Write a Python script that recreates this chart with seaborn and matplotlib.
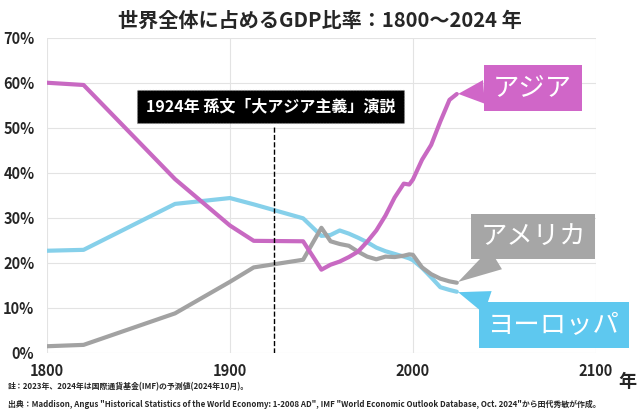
import numpy as np
import pandas as pd
import matplotlib
matplotlib.use("Agg")
import matplotlib.pyplot as plt
import seaborn as sns

# データ
years = [1800, 1820, 1870, 1900, 1913, 1940, 1950, 1955, 1960, 1965, 1970,
         1975, 1980, 1985, 1990, 1995, 1998, 2000, 2005, 2010, 2015, 2020, 2024]
asia = [60.0, 59.5, 38.6, 28.3, 24.9, 24.8, 18.5, 19.6, 20.3, 21.3, 22.5,
        24.7, 27.2, 30.5, 34.5, 37.6, 37.4, 38.5, 42.9, 46.2, 51.4, 56.2, 57.5]
europe = [22.7, 22.9, 33.1, 34.4, 33.0, 29.9, 26.0, 26.2, 27.2, 26.5, 25.6,
          24.6, 23.4, 22.6, 22.0, 21.4, 21.0, 20.6, 18.9, 16.8, 14.6, 14.0, 13.6]
usa = [1.5, 1.8, 8.8, 15.8, 19.0, 20.7, 27.8, 24.8, 24.2, 23.8, 22.5,
       21.4, 20.8, 21.4, 21.3, 21.6, 21.9, 21.8, 19.0, 17.5, 16.5, 15.9, 15.6]

regions = ["アジア", "アメリカ", "ヨーロッパ"]
line_colors = {"アジア": "#c869c2", "アメリカ": "#a2a2a2", "ヨーロッパ": "#86d0ea"}
box_colors = {"アジア": "#d066c8", "アメリカ": "#a6a6a6", "ヨーロッパ": "#5ec8ef"}

df = pd.DataFrame({"年": years, "アジア": asia, "アメリカ": usa, "ヨーロッパ": europe})
df_long = df.melt(id_vars="年", var_name="地域", value_name="比率")

sns.set_style("white")
plt.rcParams['font.family'] = ['Noto Sans CJK JP', 'DejaVu Sans']

fig = plt.figure(figsize=(6.4, 4.17), dpi=100)
ax = fig.add_axes([0.0734, 0.1535, 0.8576, 0.7561])

sns.lineplot(data=df_long, x="年", y="比率", hue="地域", hue_order=["ヨーロッパ", "アメリカ", "アジア"],
             palette=line_colors, linewidth=3, legend=False, ax=ax)

ax.set_xlim(1800, 2100)
ax.set_ylim(0, 70)
ax.set_xticks([1800, 1900, 2000, 2100])
ax.set_yticks(range(0, 71, 10))
ax.set_yticklabels([f"{v}%" for v in range(0, 71, 10)])
ax.grid(True, color="#e3e3e3", linewidth=0.8)
ax.set_axisbelow(True)
for s in ax.spines.values():
    s.set_visible(False)
ax.tick_params(axis="both", length=0, labelsize=10.5)
ax.tick_params(axis="y", pad=9)
ax.tick_params(axis="x", pad=7)
for lab in ax.get_xticklabels() + ax.get_yticklabels():
    lab.set_fontweight("bold")
ax.set_xlabel("")
ax.set_ylabel("")

# 1924年 孫文
ax.vlines(1924, 0, 50.6, colors="black", linestyles="--", linewidth=1)
ax.text(1922.4, 54.7, "1924年 孫文「大アジア主義」演説", color="white", fontsize=11.5,
        fontweight="bold", ha="center", va="center",
        bbox=dict(boxstyle="square,pad=0.55", fc="black", ec="#888888", ls=":", lw=0.8))

# 地域ラベル（吹き出し）
label_pos = {"アジア": (2065.5, 58.8), "アメリカ": (2065.8, 25.9), "ヨーロッパ": (2077.3, 6.2)}
series = {"アジア": asia, "アメリカ": usa, "ヨーロッパ": europe}
for name in regions:
    ax.annotate(name, xy=(years[-1], series[name][-1]), xytext=label_pos[name],
                ha="center", va="center", color="white", fontsize=19,
                bbox=dict(boxstyle="square,pad=0.35", fc=box_colors[name], ec="none"),
                arrowprops=dict(arrowstyle="wedge,tail_width=0.9,shrink_factor=0.5",
                                fc=box_colors[name], ec="none", shrinkA=0, shrinkB=1),
                annotation_clip=False)

fig.text(0.5, 0.952, "世界全体に占めるGDP比率：1800～2024 年", ha="center", va="center",
         fontsize=14.5, fontweight="bold")
fig.text(0.98, 0.085, "年", ha="center", va="center", fontsize=13, fontweight="bold")
fig.text(0.012, 0.072, "註：2023年、2024年は国際通貨基金(IMF)の予測値(2024年10月)。",
         ha="left", va="center", fontsize=5.7, fontweight="bold")
fig.text(0.012, 0.031, "出典：Maddison, Angus \"Historical Statistics of the World Economy: 1-2008 AD\", "
         "IMF \"World Economic Outlook Database, Oct. 2024\"から田代秀敏が作成。",
         ha="left", va="center", fontsize=5.7, fontweight="bold")

fig.savefig("out.png", dpi=100)
